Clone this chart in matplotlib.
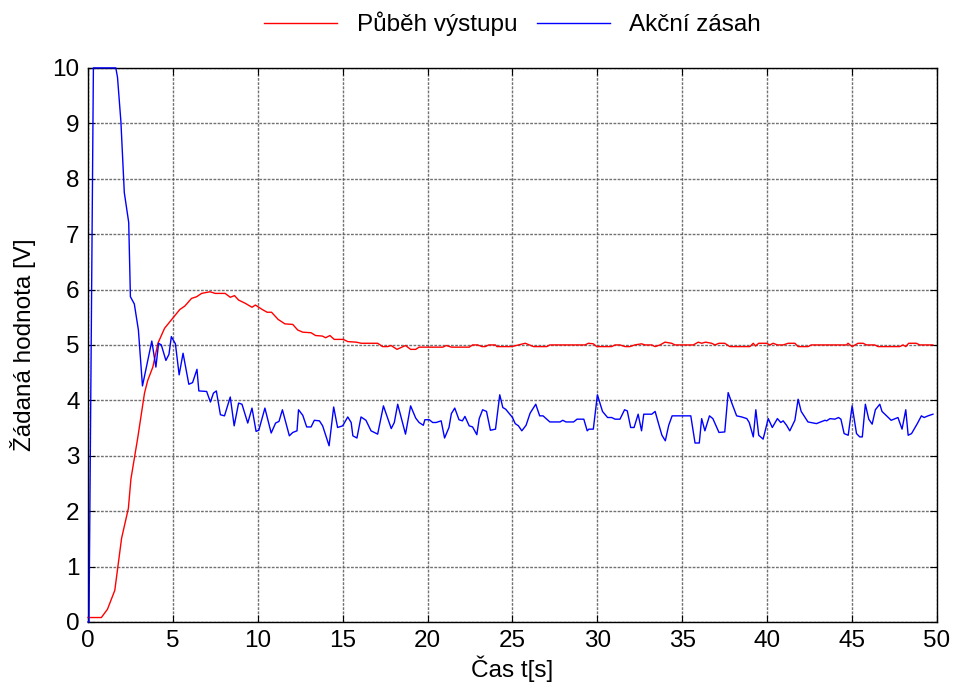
import numpy as np
import matplotlib
matplotlib.use("Agg")
import matplotlib.pyplot as plt

# Output of the system (red)
t_out = [0, 0.79, 1.15, 1.58, 1.98, 2.38, 2.53, 2.93, 3.33, 3.52, 3.82, 4.12, 4.51, 4.91,
         5.41, 5.7, 6.1, 6.4, 6.69, 7.19, 7.49, 8.08, 8.38, 8.63, 8.87, 9.27, 9.66, 9.86,
         10.26, 10.55, 10.81, 11.2, 11.6, 12.06, 12.35, 12.65, 13.14, 13.4, 13.8, 14.0,
         14.25, 14.5, 15.04, 15.3, 15.8, 16.1, 17.06, 17.35, 17.65, 17.85, 18.2, 18.7,
         19.0, 19.3, 19.5, 20.9, 21.1, 21.4, 22.45, 22.65, 22.95, 23.2, 23.4, 23.6, 24.0,
         24.08, 24.96, 25.35, 25.75, 26.24, 27.02, 27.2, 29.27, 29.47, 29.76, 29.96, 30.84,
         31.04, 31.33, 31.63, 31.92, 32.2, 32.6, 32.8, 33.2, 33.4, 33.69, 33.98, 34.37,
         34.57, 35.65, 35.94, 36.14, 36.37, 36.73, 36.92, 37.16, 37.5, 37.8, 38.98, 39.18,
         39.31, 39.5, 39.96, 40.16, 40.35, 40.6, 40.94, 41.24, 41.63, 41.82, 42.4, 42.6,
         44.67, 44.76, 45.0, 45.35, 45.65, 45.84, 46.33, 46.53, 47.8, 48.0, 48.16, 48.33,
         48.78, 48.98, 49.76]
y_out = [0.08, 0.08, 0.23, 0.57, 1.51, 2.05, 2.58, 3.32, 4.13, 4.36, 4.6, 5.03, 5.3, 5.45,
         5.64, 5.7, 5.84, 5.87, 5.93, 5.96, 5.93, 5.93, 5.86, 5.89, 5.81, 5.75, 5.68, 5.72,
         5.64, 5.59, 5.59, 5.46, 5.38, 5.37, 5.27, 5.23, 5.22, 5.17, 5.16, 5.13,
         5.17, 5.1, 5.1, 5.06, 5.05, 5.03, 5.03, 4.97, 4.97, 4.99, 4.92, 4.99,
         4.92, 4.92, 4.96, 4.96, 4.99, 4.96, 4.96, 5.0, 5.0, 4.97, 4.97, 5.0, 5.0,
         4.97, 4.97, 5.0, 5.03, 4.97, 4.97, 5.0, 5.0, 5.03, 5.02, 4.97, 4.97,
         5.0, 5.0, 4.97, 4.97, 5.0, 5.02, 5.0, 5.0, 4.97, 5.0, 5.05, 5.03,
         5.0, 5.0, 5.05, 5.03, 5.05, 5.03, 5.0, 5.03, 5.03, 4.97, 4.97, 5.03,
         4.98, 5.03, 5.03, 5.0, 5.03, 5.0, 5.0, 5.03, 5.03, 4.97, 4.97, 5.0,
         5.0, 5.03, 4.97, 5.03, 5.03, 5.0, 5.0, 4.97, 4.97, 5.0, 4.97, 5.03,
         5.03, 5.0, 5.0]

# Control action (blue)
t_u = [0, 0.06, 0.32, 1.64, 1.74, 1.94, 2.14, 2.40, 2.50, 2.73, 2.97, 3.21, 3.76, 4.0,
       4.16, 4.32, 4.59, 4.77, 4.91, 5.15, 5.37, 5.6, 5.94, 6.16, 6.42, 6.53, 6.99, 7.21,
       7.39, 7.56, 7.8, 8.04, 8.38, 8.61, 8.87, 9.07, 9.41, 9.66, 9.9, 10.06, 10.42,
       10.79, 11.05, 11.25, 11.45, 11.86, 12.06, 12.31, 12.4, 12.65, 12.88, 13.14, 13.33,
       13.63, 13.82, 14.2, 14.47, 14.7, 15.0, 15.3, 15.5, 15.6, 15.84, 16.08, 16.37,
       16.67, 17.06, 17.4, 17.86, 18.04, 18.24, 18.7, 19.0, 19.3, 19.5, 19.75, 19.84,
       20.1, 20.3, 20.5, 20.8, 21.0, 21.26, 21.4, 21.6, 21.85, 22.05, 22.2, 22.45, 22.65,
       22.9, 23.04, 23.24, 23.47, 23.7, 24.0, 24.25, 24.43, 24.6, 25.0, 25.16, 25.35,
       25.55, 25.8, 26.04, 26.37, 26.6, 26.8, 27.2, 27.8, 27.96, 28.15, 28.6, 28.8, 29.2,
       29.4, 29.5, 29.76, 30.0, 30.3, 30.6, 30.84, 31.04, 31.33, 31.6, 31.76, 31.96,
       32.16, 32.4, 32.6, 32.73, 33.2, 33.4, 33.6, 33.8, 34.0, 34.2, 34.4, 35.5, 35.75,
       36.0, 36.14, 36.33, 36.6, 36.8, 37.16, 37.5, 37.7, 37.94, 38.2, 38.5, 38.8, 38.94,
       39.18, 39.33, 39.5, 39.76, 40.06, 40.3, 40.6, 40.8, 40.94, 41.14, 41.33, 41.63,
       41.82, 42.0, 42.4, 42.9, 43.4, 43.5, 43.7, 43.98, 44.2, 44.34, 44.53, 44.77, 45.0,
       45.26, 45.45, 45.6, 45.78, 45.98, 46.18, 46.37, 46.63, 46.76, 47.1, 47.3, 47.7,
       47.94, 48.16, 48.3, 48.5, 48.84, 49.08, 49.24, 49.47, 49.76]
y_u = [0, 0, 10, 10, 9.83, 9.03, 7.75, 7.21, 5.87, 5.74, 5.27, 4.26, 5.07, 4.6,
       5.03, 5.0, 4.72, 4.83, 5.15, 5.02, 4.46, 4.85, 4.29, 4.32, 4.56, 4.17, 4.16, 3.97,
       4.13, 4.17, 3.74, 3.72, 4.06, 3.54, 3.95, 3.93, 3.59, 3.86, 3.44, 3.46, 3.86,
       3.41, 3.59, 3.62, 3.83, 3.36, 3.42, 3.45, 3.83, 3.73, 3.52, 3.52, 3.64,
       3.63, 3.54, 3.18, 3.88, 3.51, 3.54, 3.70, 3.6, 3.36, 3.32, 3.7, 3.64,
       3.45, 3.39, 3.9, 3.49, 3.6, 3.93, 3.39, 3.9, 3.68, 3.6, 3.55, 3.65,
       3.65, 3.6, 3.6, 3.63, 3.32, 3.51, 3.76, 3.86, 3.65, 3.63, 3.71, 3.54, 3.52,
       3.38, 3.67, 3.83, 3.8, 3.46, 3.48, 4.1, 3.87, 3.84, 3.69, 3.58, 3.54,
       3.45, 3.55, 3.77, 3.93, 3.72, 3.72, 3.61, 3.61, 3.64, 3.61, 3.61, 3.66, 3.66,
       3.45, 3.48, 3.48, 4.1, 3.8, 3.69, 3.69, 3.66, 3.66, 3.83, 3.81, 3.51,
       3.51, 3.75, 3.45, 3.75, 3.75, 3.8, 3.58, 3.37, 3.27, 3.55, 3.72, 3.72, 3.23,
       3.23, 3.67, 3.45, 3.72, 3.67, 3.42, 3.43, 4.14, 3.93, 3.72, 3.7, 3.67, 3.6,
       3.34, 3.83, 3.37, 3.3, 3.67, 3.51, 3.67, 3.6, 3.63, 3.55, 3.45, 3.64,
       4.02, 3.8, 3.61, 3.58, 3.64, 3.63, 3.67, 3.66, 3.69, 3.66, 3.4, 3.37, 3.9,
       3.4, 3.34, 3.34, 3.93, 3.66, 3.57, 3.83, 3.93, 3.8, 3.7, 3.64, 3.69,
       3.48, 3.83, 3.37, 3.4, 3.58, 3.72, 3.69, 3.72, 3.75]

labels = ["Půběh výstupu", "Akční zásah"]
xticks = np.arange(0, 51, 5)
yticks = np.arange(0, 11, 1)

plt.rcParams['font.family'] = ['Liberation Sans', 'DejaVu Sans']

fig = plt.figure(figsize=(9.54, 6.9), dpi=100)
ax = fig.add_axes([0.0922, 0.0986, 0.890, 0.803])

# lines drawn above the spines so the saturated part at 10 stays visible
ax.plot(t_out, y_out, color='red', lw=1.0, label=labels[0], clip_on=False, zorder=3)
ax.plot(t_u, y_u, color='blue', lw=1.0, label=labels[1], clip_on=False, zorder=3)

ax.set_xlim(0, 50)
ax.set_ylim(0, 10)
ax.set_xticks(xticks)
ax.set_yticks(yticks)
ax.tick_params(direction='in', top=True, right=True, length=5, labelsize=17.5, pad=6)
ax.grid(True, color='0.35', linestyle=(0, (2, 1)), lw=1.0, alpha=0.85)
for s in ax.spines.values():
    s.set_linewidth(1.0)

ax.set_xlabel("Čas t[s]", fontsize=17.5, labelpad=2)
ax.set_ylabel("Žádaná hodnota [V]", fontsize=17.5, labelpad=12)

ax.legend(loc='lower center', bbox_to_anchor=(0.5, 1.04), ncol=2, frameon=False,
          fontsize=17.5, handlelength=3.0, columnspacing=0.8, borderaxespad=0)

fig.savefig("out.png", dpi=100)
